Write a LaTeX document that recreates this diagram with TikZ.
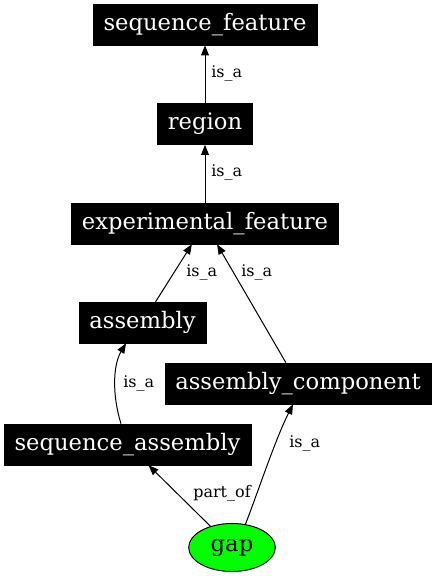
\documentclass[tikz,border=0pt]{standalone}
\usepackage{fontspec}
\setmainfont{DejaVu Serif}
\usepackage{xcolor}
\definecolor{gapgreen}{RGB}{0, 255, 0}
\usetikzlibrary{
  arrows.meta,
  shapes.geometric,
  calc
}

\tikzset{
  term/.style={rectangle, draw=black, fill=black, text=white, inner xsep=7.9pt,
    minimum height=30.75pt, font=\fontsize{17}{20}\selectfont},
  rel/.style={draw=black, line width=0.75pt, -{Triangle[length=7.5pt, width=5.8pt]}},
  lbl/.style={inner sep=0pt, anchor=west, font=\fontsize{12}{14}\selectfont}
}

\begin{document}
\begin{tikzpicture}[x=0.75pt, y=-0.75pt]

  \useasboundingbox (0, 0) rectangle (436, 576);

  % the terms, one per rank
  \node[term] (sf)  at (205, 24.5)    {sequence\_feature};
  \node[term] (reg) at (205, 124)     {region};
  \node[term] (ef)  at (205, 223.5)   {experimental\_feature};
  \node[term] (asm) at (142.5, 322.5) {assembly};
  \node[term] (ac)  at (298, 383.5)   {assembly\_component};
  \node[term] (sa)  at (127.5, 444.5) {sequence\_assembly};
  \node[ellipse, draw=black, fill=gapgreen, line width=0.75pt,
        minimum width=65pt, minimum height=36pt, inner sep=0pt,
        font=\fontsize{17}{20}\selectfont] (gap) at (232, 547.5) {gap};

  % is_a chain up to the root
  \draw[rel] (reg) -- (sf);
  \draw[rel] (ef) -- (reg);
  \draw[rel] (asm) -- (ef);
  \draw[rel] (ac) -- (ef);

  % bent edges
  \draw[rel] ($(sa.north)+(-6.5, 0)$) .. controls (112, 395) and (113, 365) .. ($(asm.south)+(-16.5, 0)$);
  \draw[rel] (gap) -- (sa);
  \draw[rel] (gap.60) .. controls (258, 492) and (275, 440) .. ($(ac.south)+(-5, 0)$);

  % edge labels
  \node[lbl] (l1) at (211, 73)  {is\_a};
  \node[lbl] (l2) at (211, 172) {is\_a};
  \node[lbl] (l3) at (186, 272) {is\_a};
  \node[lbl] (l4) at (241, 272) {is\_a};
  \node[lbl] (l5) at (123, 383) {is\_a};
  \node[lbl] (l6) at (193, 493) {part\_of};
  \node[lbl] (l7) at (289, 443) {is\_a};

\end{tikzpicture}
\end{document}
